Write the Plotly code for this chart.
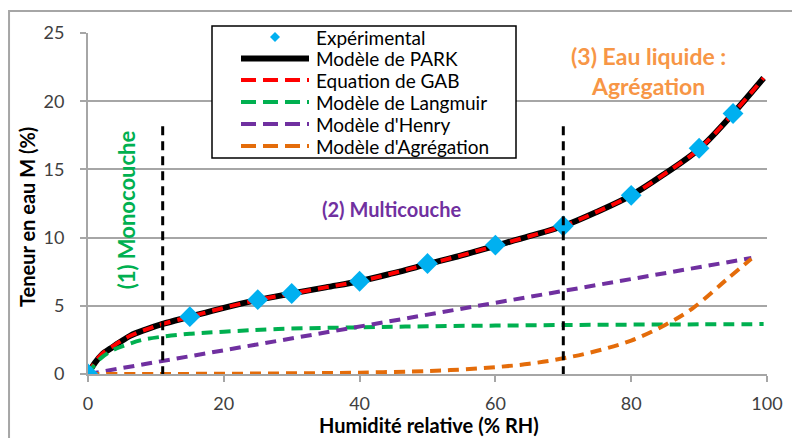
import plotly.graph_objects as go

# ---------------- data ----------------
exp_x = [0, 15, 25, 30, 40, 50, 60, 70, 80, 90, 95]
exp_y = [0, 4.2, 5.45, 5.9, 6.8, 8.1, 9.45, 10.85, 13.1, 16.55, 19.1]

model_x = [0, 1, 2, 3.7, 6.2, 8.6, 11, 15, 20, 25, 30, 35, 40, 45, 50, 55, 60,
           65, 70, 75, 80, 85, 90, 95, 99.5]
park_y = [0, 0.8, 1.4, 2.0, 2.8, 3.27, 3.67, 4.2, 4.85, 5.43, 5.9, 6.35, 6.8,
          7.4, 8.05, 8.7, 9.4, 10.1, 10.85, 11.9, 13.1, 14.7, 16.5, 19.1, 21.7]
gab_y = [0, 0.85, 1.45, 2.05, 2.8, 3.27, 3.67, 4.2, 4.85, 5.43, 5.9, 6.35, 6.8,
         7.4, 8.05, 8.7, 9.4, 10.1, 10.85, 11.9, 13.1, 14.7, 16.5, 19.1, 21.7]

lang_x = [0, 1, 2, 3.7, 6, 8, 11, 15, 20, 28, 40, 50, 60, 70, 80, 90, 99.5]
lang_y = [0, 0.7, 1.2, 1.76, 2.2, 2.5, 2.74, 2.95, 3.1, 3.3, 3.42, 3.5, 3.55,
          3.59, 3.62, 3.64, 3.66]

henry_x = [0, 10, 20, 30, 40, 50, 60, 70, 80, 90, 97.7]
henry_y = [0, 0.87, 1.74, 2.61, 3.48, 4.35, 5.22, 6.1, 6.96, 7.83, 8.5]

agg_x = [0, 10, 20, 30, 40, 50, 55, 60, 65, 70, 75, 80, 85, 89, 94, 97.7]
agg_y = [0, 0, 0.02, 0.05, 0.1, 0.22, 0.33, 0.5, 0.75, 1.15, 1.7, 2.45, 3.6,
         4.8, 6.9, 8.45]

boundary_x = [11, 70]

x_ticks = [0, 20, 40, 60, 80, 100]
y_ticks = [0, 5, 10, 15, 20, 25]

legend_names = ["Expérimental", "Modèle de PARK", "Equation de GAB",
                "Modèle de Langmuir", "Modèle d'Henry", "Modèle d'Agrégation"]

FONT = "Lato"
DASH = "11px,7px"
C_EXP = "#00B0F0"
C_PARK = "black"
C_GAB = "#FF0000"
C_LANG = "#00B050"
C_HENRY = "#7030A0"
C_AGG = "#E46C0A"

fig = go.Figure()

fig.add_trace(go.Scatter(x=model_x, y=park_y, mode="lines", name=legend_names[1],
                         line=dict(color=C_PARK, width=6, shape="spline")))
fig.add_trace(go.Scatter(x=model_x, y=gab_y, mode="lines", name=legend_names[2],
                         line=dict(color=C_GAB, width=4, dash=DASH, shape="spline")))
fig.add_trace(go.Scatter(x=lang_x, y=lang_y, mode="lines", name=legend_names[3],
                         line=dict(color=C_LANG, width=4, dash=DASH, shape="spline")))
fig.add_trace(go.Scatter(x=henry_x, y=henry_y, mode="lines", name=legend_names[4],
                         line=dict(color=C_HENRY, width=4, dash=DASH)))
fig.add_trace(go.Scatter(x=agg_x, y=agg_y, mode="lines", name=legend_names[5],
                         line=dict(color=C_AGG, width=4, dash=DASH, shape="spline")))
fig.add_trace(go.Scatter(x=exp_x, y=exp_y, mode="markers", name=legend_names[0],
                         marker=dict(symbol="diamond", size=16, color=C_EXP)))

shapes = []
for bx in boundary_x:
    shapes.append(dict(type="line", xref="x", yref="y", x0=bx, x1=bx, y0=-1.2, y1=18.3,
                       line=dict(color="black", width=3, dash="9px,6px"), layer="above"))

# outer chart border
shapes.append(dict(type="rect", xref="paper", yref="paper", x0=-0.1163, x1=1.06,
                   y0=-0.25, y1=1.0645, line=dict(color="#A6A6A6", width=2),
                   fillcolor="rgba(0,0,0,0)", layer="below"))


# ---- custom legend box (px -> paper) ----
def px2x(px):
    return (px - 88) / 679.0


def py2y(py):
    return (374 - py) / 341.0


shapes.append(dict(type="rect", xref="paper", yref="paper",
                   x0=px2x(212), x1=px2x(516), y0=py2y(158), y1=py2y(26),
                   line=dict(color="black", width=1.5), fillcolor="white", layer="above"))

row_py = [37, 58.5, 80, 102, 124, 146]
sample_styles = [None,
                 dict(color=C_PARK, width=6),
                 dict(color=C_GAB, width=4, dash="15px,7px"),
                 dict(color=C_LANG, width=4, dash="15px,7px"),
                 dict(color=C_HENRY, width=4, dash="15px,7px"),
                 dict(color=C_AGG, width=4, dash="15px,7px")]
annots = []
for i, name in enumerate(legend_names):
    yc = py2y(row_py[i])
    if i == 0:
        dx = 5 / 679.0
        dy = 5 / 341.0
        xc = px2x(275)
        shapes.append(dict(type="path", xref="paper", yref="paper",
                           path=f"M {xc-dx},{yc} L {xc},{yc+dy} L {xc+dx},{yc} L {xc},{yc-dy} Z",
                           fillcolor=C_EXP, line=dict(color=C_EXP, width=0), layer="above"))
    else:
        shapes.append(dict(type="line", xref="paper", yref="paper",
                           x0=px2x(241), x1=px2x(309), y0=yc, y1=yc,
                           line=sample_styles[i], layer="above"))
    annots.append(dict(x=px2x(314), y=yc, xref="paper", yref="paper", text=name,
                       showarrow=False, xanchor="left", yanchor="middle",
                       font=dict(family=FONT, size=19, color="black")))

annots.append(dict(x=44.7, y=12.07, xref="x", yref="y", text="<b>(2) Multicouche</b>",
                   showarrow=False, font=dict(family=FONT, size=20, color=C_HENRY)))
annots.append(dict(x=82.5, y=22.2, xref="x", yref="y",
                   text="<b>(3) Eau liquide :<br>Agrégation</b>", showarrow=False,
                   font=dict(family=FONT, size=23, color="#F79646")))
annots.append(dict(x=5.6, y=12.0, xref="x", yref="y", text="<b>(1) Monocouche</b>",
                   showarrow=False, textangle=-90,
                   font=dict(family=FONT, size=22, color=C_LANG)))

# axis titles
annots.append(dict(x=px2x(429), y=py2y(425), xref="paper", yref="paper",
                   xanchor="center", yanchor="middle", borderpad=0,
                   text="<b>Humidité relative (% RH)</b>", showarrow=False,
                   font=dict(family=FONT, size=20, color="black")))
annots.append(dict(x=px2x(27), y=py2y(217), xref="paper", yref="paper",
                   xanchor="center", yanchor="middle",
                   text="<b>Teneur en eau M (%)</b>", showarrow=False, textangle=-90,
                   font=dict(family=FONT, size=20, color="black")))

fig.update_layout(
    width=792, height=438,
    margin=dict(l=88, r=25, t=33, b=64, autoexpand=False),
    paper_bgcolor="white", plot_bgcolor="white",
    font=dict(family=FONT, size=18, color="#404040"),
    showlegend=False,
    shapes=shapes,
    annotations=annots,
    xaxis=dict(range=[0, 100], tickvals=x_ticks, showgrid=False, automargin=False,
               showline=True, linecolor="#A6A6A6", linewidth=2,
               ticks="outside", ticklen=6, tickcolor="#A6A6A6", tickwidth=2,
               zeroline=False, ticklabelstandoff=6,
               tickfont=dict(family=FONT, size=18, color="#404040")),
    yaxis=dict(range=[0, 25], tickvals=y_ticks, showgrid=True, gridcolor="#A6A6A6",
               gridwidth=2, showline=True, linecolor="#A6A6A6", linewidth=2,
               ticks="outside", ticklen=6, tickcolor="#A6A6A6", tickwidth=2,
               zeroline=False, automargin=False, ticklabelstandoff=12,
               tickfont=dict(family=FONT, size=18, color="#404040")),
)

fig.write_html("out.html",
               config={"displayModeBar": False},
               post_script="document.body.style.margin='0';document.body.style.padding='0';"
                           "document.body.style.overflow='hidden';")
